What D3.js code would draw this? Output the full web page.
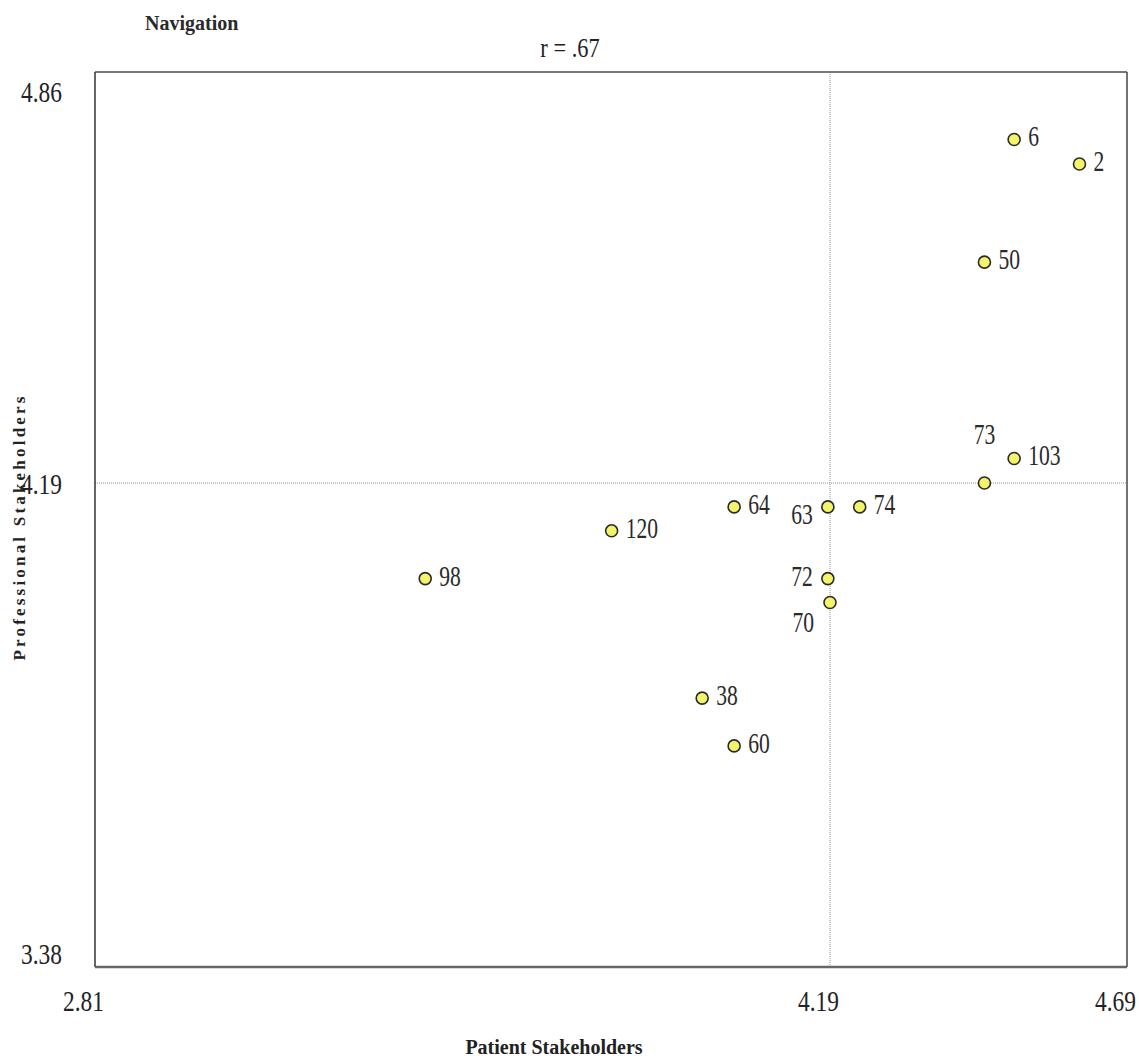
<!DOCTYPE html>
<html>
<head>
<meta charset="utf-8">
<script src="https://cdn.jsdelivr.net/npm/d3@7"></script>
<style>
  body { margin: 0; background: #fff; }
  svg { display: block; }
</style>
</head>
<body>
<svg class="chart"></svg>
<script>
// data
const ids = ["6", "2", "50", "103", "73", "64", "63", "74", "120", "98", "72", "70", "38", "60"]
const patient = [4.50, 4.61, 4.45, 4.50, 4.45, 4.01, 4.186, 4.24, 3.78, 3.43, 4.186, 4.19, 3.95, 4.01]
const professional = [4.75, 4.71, 4.55, 4.23, 4.19, 4.15, 4.15, 4.15, 4.11, 4.03, 4.03, 3.99, 3.83, 3.75]
const xTicks = [2.81, 4.19, 4.69]
const yTicks = [3.38, 4.19, 4.86]
const xMean = 4.19
const yMean = 4.19
const title = "Navigation"
const subtitle = "r = .67"

const points = ids.map((id, i) => ({ id: id, x: patient[i], y: professional[i] }))

// where each label sits next to its dot
const labelPlace = {
  "63": { dx: -15, dy: 17, anchor: "end" },
  "72": { dx: -15, dy: 7, anchor: "end" },
  "70": { dx: -16, dy: 29, anchor: "end" },
  "73": { dx: 0, dy: -39, anchor: "middle" }
}
const defaultPlace = { dx: 14, dy: 7, anchor: "start" }

const width = 1139
const height = 1062
const plotLeft = 95, plotRight = 1127, plotTop = 72, plotBottom = 967

const svg = d3.select("svg.chart")
    .attr("width", width)
    .attr("height", height)

// the source chart's axis is not linear around the mean, so use a polylinear scale
const xScale = d3.scaleLinear()
    .domain([2.81, xMean, 4.69])
    .range([plotLeft, 830, plotRight])

const yScale = d3.scaleLinear()
    .domain([3.38, yMean, 4.86])
    .range([plotBottom, 483, plotTop])

const serif = "'Liberation Serif', 'Times New Roman', serif"

// mean lines
svg.append("line")
    .attr("x1", xScale(xMean)).attr("x2", xScale(xMean))
    .attr("y1", plotTop).attr("y2", plotBottom)
    .style("stroke", "#b8b8b8")
    .style("stroke-width", 1.5)
    .style("stroke-dasharray", "1,1")

svg.append("line")
    .attr("x1", plotLeft).attr("x2", plotRight)
    .attr("y1", yScale(yMean)).attr("y2", yScale(yMean))
    .style("stroke", "#b8b8b8")
    .style("stroke-width", 1.5)
    .style("stroke-dasharray", "1,1")

// frame
svg.append("line").attr("x1", plotLeft).attr("x2", plotRight).attr("y1", plotTop).attr("y2", plotTop)
    .style("stroke", "#777").style("stroke-width", 2)
svg.append("line").attr("x1", plotRight).attr("x2", plotRight).attr("y1", plotTop).attr("y2", plotBottom)
    .style("stroke", "#444").style("stroke-width", 1.5)
svg.append("line").attr("x1", plotLeft).attr("x2", plotLeft).attr("y1", plotTop).attr("y2", plotBottom)
    .style("stroke", "#333").style("stroke-width", 1.5)
svg.append("line").attr("x1", plotLeft).attr("x2", plotRight).attr("y1", plotBottom).attr("y2", plotBottom)
    .style("stroke", "#666").style("stroke-width", 2.5)

// x axis labels
const xAxis = svg.append("g")
    .attr("transform", "translate(0," + plotBottom + ")")
    .call(d3.axisBottom(xScale).tickValues(xTicks).tickSize(0).tickFormat(d3.format(".2f")))
xAxis.select(".domain").remove()
xAxis.selectAll("text")
    .attr("y", 0).attr("dy", 0)
    .attr("transform", "translate(-12,44) scale(0.78,1)")
    .style("font-family", serif)
    .style("font-size", "30px")
    .style("fill", "#222")

// y axis labels, pinned inside the frame at the ends
const yAxis = svg.append("g")
    .attr("transform", "translate(" + plotLeft + ",0)")
    .call(d3.axisLeft(yScale).tickValues(yTicks).tickSize(0).tickFormat(d3.format(".2f")))
yAxis.select(".domain").remove()
yAxis.selectAll("text")
    .attr("x", 0).attr("dy", 0)
    .attr("transform", d => {
        const yy = Math.max(plotTop + 19, Math.min(plotBottom - 14, yScale(d)))
        return "translate(-33," + (yy - yScale(d) + 10) + ") scale(0.78,1)"
    })
    .style("font-family", serif)
    .style("font-size", "30px")
    .style("fill", "#222")

// points
svg.append("g")
    .selectAll("circle")
    .data(points)
    .enter()
    .append("circle")
    .attr("cx", d => xScale(d.x))
    .attr("cy", d => yScale(d.y))
    .attr("r", 6)
    .style("fill", "#f4f46a")
    .style("stroke", "#2a2a2a")
    .style("stroke-width", 1.6)

svg.append("g")
    .selectAll("text")
    .data(points)
    .enter()
    .append("text")
    .attr("transform", d => {
        const p = labelPlace[d.id] || defaultPlace
        return "translate(" + (xScale(d.x) + p.dx) + "," + (yScale(d.y) + p.dy) + ") scale(0.72,1)"
    })
    .attr("text-anchor", d => (labelPlace[d.id] || defaultPlace).anchor)
    .style("font-family", serif)
    .style("font-size", "30px")
    .style("fill", "#2a2a2a")
    .text(d => d.id)

// titles
svg.append("text")
    .attr("x", 145).attr("y", 30)
    .style("font-family", serif)
    .style("font-size", "20px")
    .style("font-weight", "bold")
    .style("fill", "#2a2a2a")
    .text(title)

svg.append("text")
    .attr("transform", "translate(570,57) scale(0.8,1)")
    .attr("text-anchor", "middle")
    .style("font-family", serif)
    .style("font-size", "28px")
    .style("fill", "#222")
    .text(subtitle)

svg.append("text")
    .attr("x", 554).attr("y", 1054)
    .attr("text-anchor", "middle")
    .style("font-family", serif)
    .style("font-size", "20px")
    .style("font-weight", "bold")
    .style("fill", "#222")
    .text("Patient Stakeholders")

svg.append("text")
    .attr("transform", "translate(25,527) rotate(-90)")
    .attr("text-anchor", "middle")
    .style("font-family", serif)
    .style("font-size", "17px")
    .style("font-weight", "bold")
    .style("letter-spacing", "3.2px")
    .style("fill", "#222")
    .text("Professional Stakeholders")
</script>
</body>
</html>
